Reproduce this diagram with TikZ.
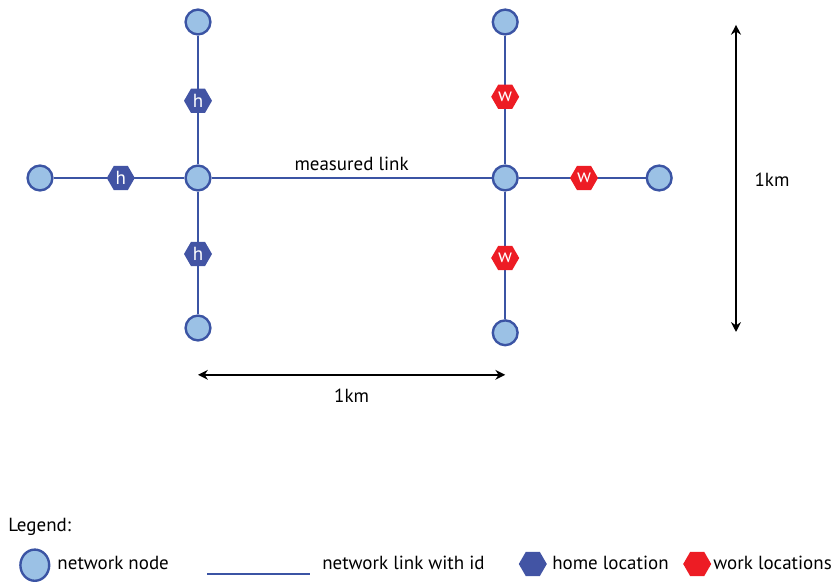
\documentclass[tikz,border=0pt]{standalone}
\usepackage{fontspec}
\setmainfont{PT Sans}
\usetikzlibrary{shapes.geometric,arrows.meta}
\definecolor{nodefill}{RGB}{155,193,229}
\definecolor{linkblue}{RGB}{59,84,164}
\definecolor{homeblue}{RGB}{66,84,164}
\definecolor{workred}{RGB}{237,28,36}
\tikzset{
  netnode/.style={circle,draw=linkblue,fill=nodefill,line width=1.7pt,minimum size=0.62cm,inner sep=0pt},
  netlink/.style={draw=linkblue,line width=1.7pt},
  home/.style={regular polygon,regular polygon sides=6,fill=homeblue,text=white,minimum size=0.7cm,inner sep=0pt},
  work/.style={regular polygon,regular polygon sides=6,fill=workred,text=white,minimum size=0.7cm,inner sep=0pt},
  dimline/.style={line width=1.6pt,{Stealth[length=7pt,width=7pt]}-{Stealth[length=7pt,width=7pt]}},
  lbl/.style={anchor=west,inner sep=0pt}
}
\begin{document}
\begin{tikzpicture}[font=\fontsize{13.5}{16}\selectfont]
\useasboundingbox (0,0) rectangle (20.8,14.55);

% Network nodes
\node[netnode] (l1) at (1.0,10.1) {};
\node[netnode] (c1) at (4.95,10.1) {};
\node[netnode] (t1) at (4.95,14.0) {};
\node[netnode] (b1) at (4.95,6.35) {};
\node[netnode] (c2) at (12.63,10.1) {};
\node[netnode] (t2) at (12.63,14.0) {};
\node[netnode] (b2) at (12.63,6.23) {};
\node[netnode] (r2) at (16.48,10.1) {};

% Links
\draw[netlink] (l1) -- (c1);
\draw[netlink] (t1) -- (c1);
\draw[netlink] (b1) -- (c1);
\draw[netlink] (c1) -- (c2) node[midway,above=1pt] (meas) {measured link};
\draw[netlink] (t2) -- (c2);
\draw[netlink] (b2) -- (c2);
\draw[netlink] (c2) -- (r2);

% Home and work locations
\node[home] (h1) at (3.02,10.1) {h};
\node[home] (h2) at (4.95,12.03) {h};
\node[home] (h3) at (4.95,8.2) {h};
\node[work] (w1) at (12.63,12.13) {w};
\node[work] (w2) at (14.6,10.1) {w};
\node[work] (w3) at (12.63,8.1) {w};

% Scale
\coordinate (hx1) at (4.95,5.18);
\coordinate (hx2) at (12.63,5.18);
\draw[dimline] (hx1) -- (hx2) node[midway,below=6pt] (hkm) {1km};
\coordinate (vy1) at (18.4,13.93);
\coordinate (vy2) at (18.4,6.25);
\draw[dimline] (vy1) -- (vy2);
\node (vkm) at (19.3,10.05) {1km};

% Legend
\node[lbl] (leg) at (0.2,1.38) {Legend:};
\node[ellipse,draw=linkblue,fill=nodefill,line width=1.7pt,minimum width=0.72cm,minimum height=0.78cm,inner sep=0pt] (lnode) at (0.87,0.42) {};
\node[lbl] (tnode) at (1.43,0.475) {network node};
\coordinate (ll1) at (5.18,0.2);
\coordinate (ll2) at (7.75,0.2);
\draw[netlink] (ll1) -- (ll2);
\node[lbl] (tlink) at (8.05,0.475) {network link with id};
\node[home] (lhome) at (13.32,0.45) {};
\node[lbl] (thome) at (13.8,0.475) {home location};
\node[work] (lwork) at (17.43,0.45) {};
\node[lbl] (twork) at (17.83,0.475) {work locations};

\end{tikzpicture}
\end{document}
